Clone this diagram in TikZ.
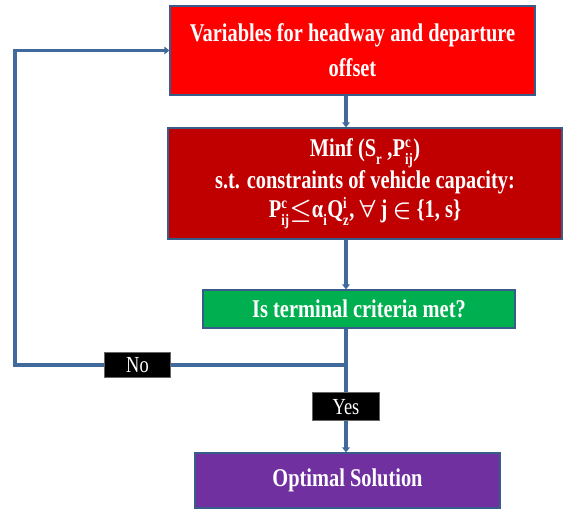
\documentclass[tikz,border=0pt]{standalone}
\usepackage{fontspec}
\setmainfont{Liberation Serif}[FakeStretch=0.8]
\usetikzlibrary{positioning,calc,arrows.meta}
\definecolor{boxline}{HTML}{385D8A}
\definecolor{flowblue}{HTML}{41699C}
\definecolor{varred}{HTML}{FF0000}
\definecolor{minfred}{HTML}{C00000}
\definecolor{testgreen}{HTML}{00B050}
\definecolor{optpurple}{HTML}{7030A0}
\newcommand{\supsub}[2]{$^{\hbox{\fontsize{16}{16}\selectfont #1}}%
  _{\hbox{\fontsize{16}{16}\selectfont #2}}$}
\begin{document}
\begin{tikzpicture}[x=1pt,y=-1pt,
    box/.style={draw=boxline,line width=1.2pt,inner sep=0pt,align=center,
                text=white,font=\fontsize{25.5}{35}\selectfont\bfseries\boldmath},
    tag/.style={fill=black,draw=black!60,line width=1pt,inner sep=0pt,
                text=white,font=\fontsize{23}{24}\selectfont},
    flow/.style={draw=flowblue,line width=3.5pt,
                 -{Triangle[length=5pt,width=7.5pt]}}]
  \useasboundingbox[fill=white] (0,0) rectangle (564,510);
  \node[box,fill=varred,minimum width=365pt,minimum height=89pt] (var)
        at (352.5,50.5) {Variables for headway and departure\\offset};
  \node[box,fill=minfred,minimum width=394pt,minimum height=111pt] (minf)
        at (365,183.5) {Minf (S\supsub{}{r} ,P\supsub{c}{ij})\\[-3pt]
        s.t. constraints of vehicle capacity:\\[-6pt]
        P\supsub{c}{ij}$\leq$α\supsub{}{i}Q\supsub{i}{z}, $\forall$ j $\in$ \{1, s\}};
  \node[box,fill=testgreen,minimum width=312pt,minimum height=38pt] (test)
        at (359,309) {Is terminal criteria met?};
  \node[box,fill=optpurple,minimum width=305pt,minimum height=55pt] (opt)
        at (347.5,480.5) {Optimal Solution};
  \coordinate (spine) at (346,0);
  \coordinate (split) at (346,365);
  \coordinate (corner) at (15,0);
  \draw[flow] (var.south -| spine) -- (minf.north -| spine);
  \draw[flow] (minf.south -| spine) -- (test.north -| spine);
  \draw[flow] (test.south -| spine) -- node[tag,pos=.63,minimum width=67pt,
        minimum height=28pt] {Yes} (opt.north -| spine);
  \draw[flow] (split) -- node[tag,pos=.63,minimum width=66pt,
        minimum height=25pt] {No} (split -| corner) |- (var.west);
\end{tikzpicture}
\end{document}
